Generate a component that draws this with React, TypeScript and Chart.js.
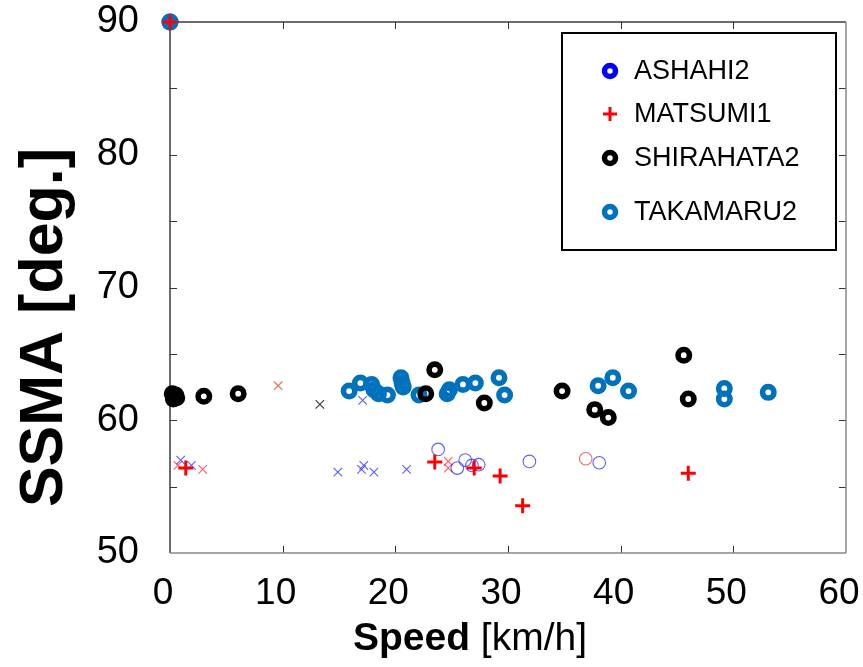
import React, { useEffect, useRef } from "react";
import { Chart, registerables } from "chart.js";

Chart.register(...registerables);

// ---- axis setup ----
const X_MIN = 0;
const X_MAX = 60;
const X_STEP = 10;
const Y_MIN = 50;
const Y_MAX = 90;
const Y_STEP = 10;
const Y_MINOR_STEP = 5;

const X_TITLE_BOLD = "Speed";
const X_TITLE_REST = " [km/h]";
const Y_TITLE = "SSMA [deg.]";

// ---- legend series ----
const LEGEND_LABELS = ["ASHAHI2", "MATSUMI1", "SHIRAHATA2", "TAKAMARU2"];
const LEGEND_COLORS = ["#0000FF", "#FF0000", "#000000", "#0072BD"];

const ashahiX = [0];
const ashahiY = [90];

const matsumiX = [0, 1.4, 23.5, 27.0, 29.3, 31.3, 46.0];
const matsumiY = [90, 56.4, 56.85, 56.4, 55.8, 53.55, 56.0];

const shirahataX = [0.2, 0.5, 0.3, 0.6, 3.0, 6.05, 22.7, 23.5, 27.9, 34.8, 37.7, 38.9, 45.6, 46.0];
const shirahataY = [62.0, 61.9, 61.6, 61.7, 61.8, 62.0, 62.0, 63.8, 61.3, 62.2, 60.8, 60.2, 64.9, 61.6];

const takamaruX = [0, 15.9, 16.9, 17.9, 18.1, 18.5, 19.3, 20.5, 20.6, 20.7, 22.1, 24.6, 24.8, 26.0, 27.1, 29.2, 29.7, 38.0, 39.3, 40.7, 49.2, 49.2, 53.1];
const takamaruY = [90, 62.2, 62.8, 62.7, 62.3, 62.0, 61.9, 63.2, 62.8, 62.5, 61.9, 62.0, 62.3, 62.7, 62.8, 63.2, 61.9, 62.6, 63.2, 62.2, 62.4, 61.6, 62.1];

// ---- unlabelled thin markers ----
const blueCircleX = [23.8, 25.5, 26.2, 26.8, 27.4, 31.9, 38.1];
const blueCircleY = [57.8, 56.4, 57.0, 56.6, 56.65, 56.9, 56.8];

const redCircleX = [36.9];
const redCircleY = [57.1];

const blueCrossX = [0.95, 1.9, 14.9, 17.1, 17.0, 17.2, 18.1, 21.0];
const blueCrossY = [57.0, 56.6, 56.1, 61.5, 56.3, 56.6, 56.1, 56.3];

const redCrossX = [0.7, 2.9, 24.7, 24.7];
const redCrossY = [56.6, 56.3, 56.9, 56.4];

const orangeCrossX = [9.6];
const orangeCrossY = [62.6];

const grayCrossX = [13.3];
const grayCrossY = [61.2];

const FONT = "'Liberation Sans', Arial, Helvetica, sans-serif";

function pts(xs: number[], ys: number[]) {
  return xs.map((x, i) => ({ x, y: ys[i] }));
}

const framePlugin = {
  id: "frame",
  beforeDatasetsDraw(chart: any) {
    const { ctx, chartArea: a, scales } = chart;
    const line = (x1: number, y1: number, x2: number, y2: number) => {
      ctx.beginPath();
      ctx.moveTo(x1, y1);
      ctx.lineTo(x2, y2);
      ctx.stroke();
    };
    ctx.save();
    ctx.strokeStyle = "#333333";
    ctx.lineWidth = 1;
    for (let v = Y_MIN + Y_MINOR_STEP; v < Y_MAX; v += Y_MINOR_STEP) {
      const y = Math.round(scales.y.getPixelForValue(v)) + 0.5;
      line(a.left, y, a.left + 7, y);
      line(a.right, y, a.right - 7, y);
    }
    for (let v = X_MIN + X_STEP; v < X_MAX; v += X_STEP) {
      const x = Math.round(scales.x.getPixelForValue(v)) + 0.5;
      line(x, a.bottom, x, a.bottom - 7);
      line(x, a.top, x, a.top + 7);
    }
    ctx.lineWidth = 1.5;
    ctx.strokeStyle = "#3a3a3a";
    line(a.left, a.top, a.right, a.top);
    line(a.left, a.top, a.left, a.bottom);
    ctx.strokeStyle = "#888888";
    line(a.left, a.bottom, a.right, a.bottom);
    line(a.right, a.top, a.right, a.bottom);
    ctx.restore();
  },
  afterDraw(chart: any) {
    const { ctx, chartArea: a } = chart;
    ctx.save();
    ctx.fillStyle = "#000";
    // Y title
    ctx.font = `bold 61px ${FONT}`;
    ctx.translate(62, (a.top + a.bottom) / 2 + 40);
    ctx.rotate(-Math.PI / 2);
    ctx.textAlign = "center";
    ctx.textBaseline = "alphabetic";
    ctx.fillText(Y_TITLE, 0, 0);
    ctx.setTransform(1, 0, 0, 1, 0, 0);

    // X title
    ctx.font = `bold 39px ${FONT}`;
    const wb = ctx.measureText(X_TITLE_BOLD).width;
    ctx.font = `39px ${FONT}`;
    const wr = ctx.measureText(X_TITLE_REST).width;
    const cx = (a.left + a.right) / 2 - 38;
    const sx = cx - (wb + wr) / 2;
    ctx.textAlign = "left";
    ctx.font = `bold 39px ${FONT}`;
    ctx.fillText(X_TITLE_BOLD, sx, 650);
    ctx.font = `39px ${FONT}`;
    ctx.fillText(X_TITLE_REST, sx + wb, 650);

    // Legend
    const bx = a.right - 284;
    const by = a.top + 11;
    ctx.fillStyle = "#fff";
    ctx.fillRect(bx, by, 274, 217);
    ctx.strokeStyle = "#000";
    ctx.lineWidth = 2;
    ctx.strokeRect(bx, by, 274, 217);
    const rows = [71, 114, 158, 212];
    ctx.font = `27px ${FONT}`;
    ctx.fillStyle = "#000";
    ctx.textBaseline = "middle";
    LEGEND_LABELS.forEach((lab, i) => {
      const my = rows[i];
      const mx = bx + 48;
      ctx.strokeStyle = LEGEND_COLORS[i];
      if (lab === "MATSUMI1") {
        ctx.lineWidth = 3;
        ctx.beginPath();
        ctx.moveTo(mx - 7, my);
        ctx.lineTo(mx + 7, my);
        ctx.moveTo(mx, my - 7);
        ctx.lineTo(mx, my + 7);
        ctx.stroke();
      } else {
        ctx.lineWidth = 5.5;
        ctx.beginPath();
        ctx.arc(mx, my, 5.5, 0, Math.PI * 2);
        ctx.stroke();
      }
      ctx.fillStyle = "#000";
      ctx.fillText(lab, bx + 72, my + 1);
    });
    ctx.restore();
  },
};

const zeroPad = (s: any) => {
  s.paddingTop = 0;
  s.paddingBottom = 0;
  s.paddingLeft = 0;
  s.paddingRight = 0;
};

export default function App() {
  const ref = useRef<HTMLCanvasElement | null>(null);
  useEffect(() => {
    if (!ref.current) return;
    const ring = (color: string) => ({
      pointStyle: "circle",
      pointRadius: 5.7,
      pointHoverRadius: 5.7,
      pointBorderWidth: 5.6,
      pointBorderColor: color,
    });
    const thin = (style: string, color: string, r: number) => ({
      pointStyle: style,
      pointRadius: r,
      pointHoverRadius: r,
      pointBorderWidth: 1.1,
      pointBorderColor: color,
      pointBackgroundColor: "rgba(0,0,0,0)",
    });
    const chart = new Chart(ref.current, {
      type: "scatter",
      data: {
        datasets: [
          {
            label: "MATSUMI1",
            data: pts(matsumiX, matsumiY),
            pointStyle: "cross",
            pointRadius: 7.5,
            pointHoverRadius: 7.5,
            pointBorderWidth: 3,
            pointBorderColor: "#FF0000",
            clip: false,
          } as any,
          {
            label: "SHIRAHATA2",
            data: pts(shirahataX, shirahataY),
            ...ring("#000000"),
            pointBackgroundColor: "rgba(0,0,0,0)",
            clip: false,
          },
          {
            label: "TAKAMARU2",
            data: pts(takamaruX, takamaruY),
            ...ring("#0072BD"),
            pointBackgroundColor: (c: any) =>
              c.raw && c.raw.y === Y_MAX ? "#0072BD" : "rgba(0,0,0,0)",
            clip: false,
          },
          {
            label: "ASHAHI2",
            data: pts(ashahiX, ashahiY),
            ...ring("#0000FF"),
            pointBackgroundColor: "rgba(0,0,0,0)",
            clip: false,
          },
          { label: "blue-o", data: pts(blueCircleX, blueCircleY), ...thin("circle", "rgba(40,40,255,0.75)", 6.3), clip: false },
          { label: "red-o", data: pts(redCircleX, redCircleY), ...thin("circle", "rgba(240,50,50,0.75)", 6.3), clip: false },
          { label: "blue-x", data: pts(blueCrossX, blueCrossY), ...thin("crossRot", "rgba(50,50,255,0.8)", 6), clip: false },
          { label: "red-x", data: pts(redCrossX, redCrossY), ...thin("crossRot", "rgba(255,50,50,0.8)", 6), clip: false },
          { label: "orange-x", data: pts(orangeCrossX, orangeCrossY), ...thin("crossRot", "rgba(225,95,55,0.9)", 6), clip: false },
          { label: "gray-x", data: pts(grayCrossX, grayCrossY), ...thin("crossRot", "#333333", 6), clip: false },
        ] as any,
      },
      options: {
        responsive: false,
        animation: false,
        layout: { padding: { left: 0, top: 22, right: 17, bottom: 0 }, autoPadding: false } as any,
        plugins: { legend: { display: false }, tooltip: { enabled: false } },
        scales: {
          x: {
            type: "linear",
            min: X_MIN,
            max: X_MAX,
            afterFit: (s: any) => {
              s.height = 114;
              zeroPad(s);
            },
            ticks: {
              stepSize: X_STEP,
              color: "#000",
              font: { family: FONT, size: 37 },
              padding: 19,
              labelOffset: -7,
              maxRotation: 0,
            },
            grid: { display: false, drawTicks: false },
            border: { display: false },
          },
          y: {
            type: "linear",
            min: Y_MIN,
            max: Y_MAX,
            afterFit: (s: any) => {
              s.width = 170;
              zeroPad(s);
            },
            ticks: {
              stepSize: Y_STEP,
              color: "#000",
              font: { family: FONT, size: 38 },
              padding: 31,
            },
            grid: { display: false, drawTicks: false },
            border: { display: false },
          },
        },
      } as any,
      plugins: [framePlugin],
    });
    return () => chart.destroy();
  }, []);
  return (
    <div style={{ position: "fixed", left: 0, top: 0, width: 863, height: 667, background: "#fff" }}>
      <canvas ref={ref} width={863} height={667} />
    </div>
  );
}
